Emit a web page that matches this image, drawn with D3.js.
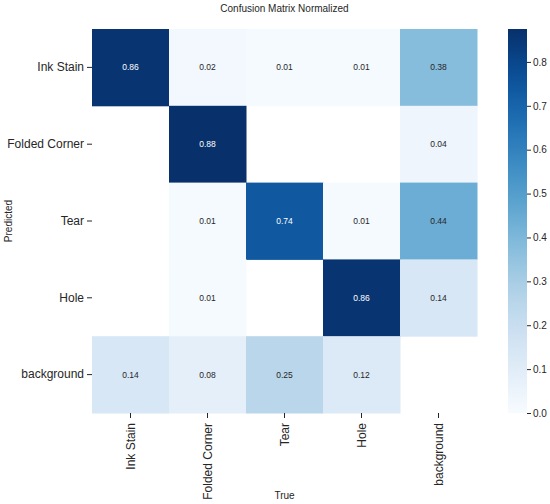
<!DOCTYPE html>
<html>
<head>
<meta charset="utf-8">
<script src="https://cdn.jsdelivr.net/npm/d3@7"></script>
<style>
  body { margin: 0; background: #ffffff; }
  text { font-family: Arial, "Liberation Sans", sans-serif; fill: #262626; }
</style>
</head>
<body>
<div id="chart"></div>
<script>
// labels along both axes
var classes = ['Ink Stain', 'Folded Corner', 'Tear', 'Hole', 'background']
// one array per predicted row, values by true class (0 = empty cell)
var rowInkStain     = [0.86, 0.02, 0.01, 0.01, 0.38]
var rowFoldedCorner = [0,    0.88, 0,    0,    0.04]
var rowTear         = [0,    0.01, 0.74, 0.01, 0.44]
var rowHole         = [0,    0.01, 0,    0.86, 0.14]
var rowBackground   = [0.14, 0.08, 0.25, 0.12, 0]
var colorTicks = [0.0, 0.1, 0.2, 0.3, 0.4, 0.5, 0.6, 0.7, 0.8]
var colorMax = 0.875

var rows = [rowInkStain, rowFoldedCorner, rowTear, rowHole, rowBackground]

var width = 550, height = 504
// note: "top" is taken by window.top, hence the prefixed names
var gridLeft = 92, gridTop = 29, gridRight = 477, gridBottom = 413

var svg = d3.select('#chart').append('svg')
  .attr('width', width)
  .attr('height', height)

var x = d3.scaleBand().domain(classes).range([gridLeft, gridRight])
var y = d3.scaleBand().domain(classes).range([gridTop, gridBottom])
var color = d3.scaleSequential(d3.interpolateBlues).domain([0, colorMax])

var cells = []
rows.forEach(function(r, i){
  r.forEach(function(v, j){
    cells.push({ pred: classes[i], truth: classes[j], value: v })
  })
})
var filled = cells.filter(function(d){ return d.value > 0 })

svg.selectAll('rect.cell')
  .data(filled)
  .enter()
  .append('rect')
  .attr('class', 'cell')
  .attr('x', function(d){ return x(d.truth) })
  .attr('y', function(d){ return y(d.pred) })
  .attr('width', x.bandwidth() + 0.5)
  .attr('height', y.bandwidth() + 0.5)
  .attr('fill', function(d){ return color(d.value) })

svg.selectAll('text.annot')
  .data(filled)
  .enter()
  .append('text')
  .attr('class', 'annot')
  .attr('x', function(d){ return x(d.truth) + x.bandwidth() / 2 })
  .attr('y', function(d){ return y(d.pred) + y.bandwidth() / 2 })
  .attr('dy', '0.35em')
  .attr('text-anchor', 'middle')
  .attr('font-size', 8.5)
  .style('fill', function(d){
    var c = d3.rgb(color(d.value))
    var lum = (0.2126 * c.r + 0.7152 * c.g + 0.0722 * c.b) / 255
    return lum < 0.45 ? '#ffffff' : '#262626'
  })
  .text(function(d){ return d3.format('.2f')(d.value) })

// axes
var yAxis = svg.append('g')
  .attr('transform', 'translate(' + gridLeft + ',0)')
  .call(d3.axisLeft(y).tickSize(5).tickPadding(3))
yAxis.select('.domain').remove()
yAxis.selectAll('text').attr('font-size', 12).style('font-family', 'Arial, "Liberation Sans", sans-serif')
yAxis.selectAll('line').attr('stroke', '#262626')

var xAxis = svg.append('g')
  .attr('transform', 'translate(0,' + gridBottom + ')')
  .call(d3.axisBottom(x).tickSize(5).tickPadding(3))
xAxis.select('.domain').remove()
xAxis.selectAll('line').attr('stroke', '#262626')
xAxis.selectAll('text')
  .attr('font-size', 12)
  .style('font-family', 'Arial, "Liberation Sans", sans-serif')
  .attr('text-anchor', 'end')
  .attr('transform', 'rotate(-90)')
  .attr('x', -10)
  .attr('y', 0)
  .attr('dy', '0.35em')

// colorbar
var cbLeft = 508, cbRight = 527
var cbScale = d3.scaleLinear().domain([0, colorMax]).range([gridBottom, gridTop])

var grad = svg.append('defs').append('linearGradient')
  .attr('id', 'cbgrad')
  .attr('x1', 0).attr('y1', 1).attr('x2', 0).attr('y2', 0)
grad.selectAll('stop')
  .data(d3.range(0, 1.0001, 0.05))
  .enter()
  .append('stop')
  .attr('offset', function(d){ return d })
  .attr('stop-color', function(d){ return color(d * colorMax) })

svg.append('rect')
  .attr('x', cbLeft)
  .attr('y', gridTop)
  .attr('width', cbRight - cbLeft)
  .attr('height', gridBottom - gridTop)
  .attr('fill', 'url(#cbgrad)')

var cbAxis = svg.append('g')
  .attr('transform', 'translate(' + cbRight + ',0)')
  .call(d3.axisRight(cbScale).tickValues(colorTicks).tickFormat(d3.format('.1f')).tickSize(4).tickPadding(2))
cbAxis.select('.domain').remove()
cbAxis.selectAll('line').attr('stroke', '#262626')
cbAxis.selectAll('text').attr('font-size', 10).style('font-family', 'Arial, "Liberation Sans", sans-serif')

// titles
svg.append('text')
  .attr('x', (gridLeft + gridRight) / 2)
  .attr('y', 12)
  .attr('text-anchor', 'middle')
  .attr('font-size', 10)
  .text('Confusion Matrix Normalized')

svg.append('text')
  .attr('x', (gridLeft + gridRight) / 2)
  .attr('y', 499)
  .attr('text-anchor', 'middle')
  .attr('font-size', 10)
  .text('True')

svg.append('text')
  .attr('transform', 'translate(12,' + (gridTop + gridBottom) / 2 + ') rotate(-90)')
  .attr('text-anchor', 'middle')
  .attr('font-size', 10)
  .text('Predicted')
</script>
</body>
</html>
